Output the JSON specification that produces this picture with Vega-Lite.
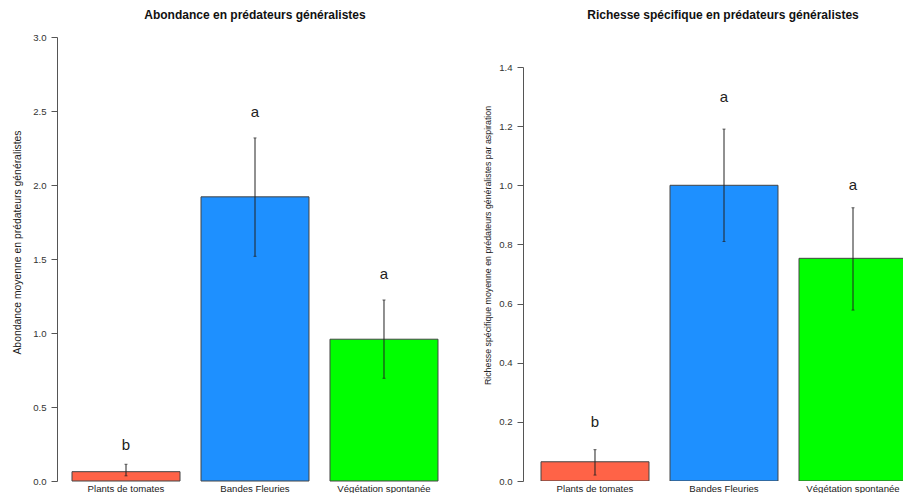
{
  "$schema": "https://vega.github.io/schema/vega-lite/v6.json",
  "padding": {"left": 12, "top": 9, "right": 0, "bottom": 0},
  "background": "white",
  "config": {
    "view": {"stroke": null},
    "font": "Liberation Sans",
    "concat": {"spacing": 70},
    "axisY": {"domainColor": "#555", "tickColor": "#555", "tickSize": 6, "labelColor": "#333", "labelFontSize": 9.6, "labelPadding": 5, "grid": false, "titleColor": "#222", "titleFont": "Liberation Sans", "titleFontWeight": "normal", "labelFont": "Liberation Sans"},
    "axisX": {"domain": false, "ticks": false, "labelAngle": 0, "labelColor": "#222", "labelFontSize": 9.6, "labelPadding": 2, "labelFont": "Liberation Sans", "grid": false},
    "title": {"font": "Liberation Sans", "fontSize": 12, "fontWeight": "bold", "color": "#111", "anchor": "middle"}
  },
  "bounds": "flush",
  "hconcat": [
    {
      "width": 396,
      "height": 444,
      "title": {"text": "Abondance en prédateurs généralistes", "offset": 10},
      "data": {"values": [
        {"groupe": "Plants de tomates", "moyenne": 0.063, "bas": 0.035, "haut": 0.113, "lettre": "b", "pos": 0.243},
        {"groupe": "Bandes Fleuries", "moyenne": 1.92, "bas": 1.518, "haut": 2.318, "lettre": "a", "pos": 2.49},
        {"groupe": "Végétation spontanée", "moyenne": 0.958, "bas": 0.694, "haut": 1.223, "lettre": "a", "pos": 1.40}
      ]},
      "encoding": {
        "x": {"field": "groupe", "type": "nominal", "sort": null, "title": null,
              "scale": {"paddingInner": 0.1628, "paddingOuter": 0.1163}}
      },
      "layer": [
        {
          "mark": {"type": "bar", "stroke": "#444", "strokeWidth": 1},
          "encoding": {
            "y": {"field": "moyenne", "type": "quantitative", "scale": {"domain": [0, 3], "nice": false},
                  "axis": {"values": [0, 0.5, 1, 1.5, 2, 2.5, 3], "format": ".1f", "title": "Abondance moyenne en prédateurs généralistes", "titleFontSize": 10.4, "titleAngle": -90, "titleX": -40, "titleY": 205, "titleAlign": "center", "titleBaseline": "middle"}},
            "color": {"field": "groupe", "type": "nominal", "legend": null,
                      "scale": {"domain": ["Plants de tomates", "Bandes Fleuries", "Végétation spontanée"], "range": ["#FF6347", "#1E90FF", "#00FF00"]}}
          }
        },
        {
          "mark": {"type": "rule", "color": "#222", "strokeWidth": 1},
          "encoding": {"y": {"field": "bas", "type": "quantitative"}, "y2": {"field": "haut"}}
        },
        {
          "mark": {"type": "tick", "color": "#222", "size": 3, "thickness": 1},
          "encoding": {"y": {"field": "haut", "type": "quantitative"}}
        },
        {
          "mark": {"type": "tick", "color": "#222", "size": 3, "thickness": 1},
          "encoding": {"y": {"field": "bas", "type": "quantitative"}}
        },
        {
          "mark": {"type": "text", "fontSize": 15, "color": "#222", "baseline": "middle"},
          "encoding": {"y": {"field": "pos", "type": "quantitative"}, "text": {"field": "lettre"}}
        }
      ]
    },
    {
      "width": 380,
      "height": 444,
      "title": {"text": "Richesse spécifique en prédateurs généralistes", "offset": 15, "dx": 10},
      "data": {"values": [
        {"groupe": "Plants de tomates", "moyenne": 0.065, "bas": 0.02, "haut": 0.106, "lettre": "b", "pos": 0.198},
        {"groupe": "Bandes Fleuries", "moyenne": 1.0, "bas": 0.81, "haut": 1.19, "lettre": "a", "pos": 1.30},
        {"groupe": "Végétation spontanée", "moyenne": 0.753, "bas": 0.578, "haut": 0.924, "lettre": "a", "pos": 1.0}
      ]},
      "encoding": {
        "x": {"field": "groupe", "type": "nominal", "sort": null, "title": null,
              "scale": {"paddingInner": 0.1628, "paddingOuter": 0, "range": [18, 384]}}
      },
      "layer": [
        {
          "mark": {"type": "bar", "stroke": "#444", "strokeWidth": 1, "clip": true},
          "encoding": {
            "y": {"field": "moyenne", "type": "quantitative", "scale": {"domain": [0, 1.4], "nice": false, "range": [444, 30]},
                  "axis": {"values": [0, 0.2, 0.4, 0.6, 0.8, 1, 1.2, 1.4], "format": ".1f", "title": "Richesse spécifique moyenne en prédateurs généralistes par aspiration", "titleFontSize": 8.8, "titleAngle": -90, "titleX": -36, "titleY": 208, "titleAlign": "center", "titleBaseline": "middle"}},
            "color": {"field": "groupe", "type": "nominal", "legend": null,
                      "scale": {"domain": ["Plants de tomates", "Bandes Fleuries", "Végétation spontanée"], "range": ["#FF6347", "#1E90FF", "#00FF00"]}}
          }
        },
        {
          "mark": {"type": "rule", "color": "#222", "strokeWidth": 1},
          "encoding": {"y": {"field": "bas", "type": "quantitative"}, "y2": {"field": "haut"}}
        },
        {
          "mark": {"type": "tick", "color": "#222", "size": 3, "thickness": 1},
          "encoding": {"y": {"field": "haut", "type": "quantitative"}}
        },
        {
          "mark": {"type": "tick", "color": "#222", "size": 3, "thickness": 1},
          "encoding": {"y": {"field": "bas", "type": "quantitative"}}
        },
        {
          "mark": {"type": "text", "fontSize": 15, "color": "#222", "baseline": "middle"},
          "encoding": {"y": {"field": "pos", "type": "quantitative"}, "text": {"field": "lettre"}}
        }
      ]
    }
  ]
}
